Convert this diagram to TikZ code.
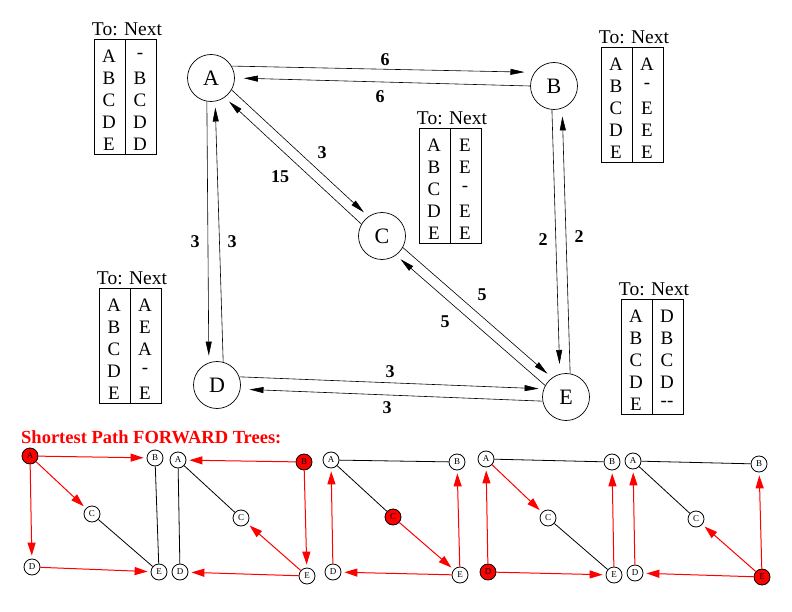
\documentclass[tikz,border=0pt]{standalone}
\usepackage{fontspec}
\setmainfont{Liberation Serif}
\usetikzlibrary{arrows.meta}
\tikzset{
  big/.style={circle,draw,line width=0.7pt,minimum size=47pt,inner sep=0pt,font=\fontsize{22}{22}\selectfont},
  sm/.style={circle,draw,line width=0.8pt,minimum size=16pt,inner sep=0pt,font=\fontsize{9}{9}\selectfont},
  src/.style={sm,fill=red},
  edge/.style={line width=0.6pt,-{Triangle[length=14pt,width=6pt]},shorten >=6pt},
  wt/.style={font=\bfseries\fontsize{18}{18}\selectfont},
  rarr/.style={red,line width=1pt,-{Triangle[length=13pt,width=8pt]},shorten >=3pt},
  bl/.style={black,line width=0.8pt},
  ttl/.style={font=\fontsize{19.5}{19.5}\selectfont},
  ent/.style={font=\fontsize{19}{19}\selectfont,inner sep=0pt},
  tbox/.style={line width=0.8pt},
}
\newcommand\rtab[8]{%
  \draw[tbox] (#1,#2) rectangle (#1+62,#2+115);
  \draw[tbox] (#1+31,#2) -- (#1+31,#2+115);
  \node[ttl] (#3t) at (#1+33,#2-10) {To: Next};
  \foreach \l/\n [count=\i from 0] in {A/#4,B/#5,C/#6,D/#7,E/#8} {
    \node[ent] (#3l\l) at (#1+15,#2+17+22*\i) {\l};
    \node[ent] (#3n\l) at (#1+46,#2+17+22*\i) {\n};
  }%
}
\begin{document}
\begin{tikzpicture}[x=1pt,y=-1pt]
\useasboundingbox[fill=white] (0,0) rectangle (792,612);
% main graph
\node[big] (A) at (211,78) {A};
\node[big] (B) at (554,86) {B};
\node[big] (C) at (382,236) {C};
\node[big] (D) at (217,385) {D};
\node[big] (E) at (566,397) {E};
\draw[edge,shorten >=10pt] (A.30) -- (B.145);
\draw[edge,shorten >=9pt] (B.180) -- (A.0);
\draw[edge] (A.-30) -- (C.125);
\draw[edge] (C.150) -- (A.-55);
\draw[edge,shorten >=7pt] (A.-100) -- (D.110);
\draw[edge] (D.75) -- (A.-80);
\draw[edge,shorten >=10pt] (B.-95) -- (E.105);
\draw[edge,shorten >=8pt] (E.80) -- (B.-70);
\draw[edge] (C.-29) -- (E.126);
\draw[edge] (E.151) -- (C.-54);
\draw[edge,shorten >=5pt] (D.20) -- (E.160);
\draw[edge,shorten >=9pt] (E.190) -- (D.-10);
\node[wt] (w1) at (385,60) {6};
\node[wt] (w2) at (380,97) {6};
\node[wt] (w3) at (322,153) {3};
\node[wt] (w4) at (280,177) {15};
\node[wt] (w5) at (195,242) {3};
\node[wt] (w6) at (232,242) {3};
\node[wt] (w7) at (543,240) {2};
\node[wt] (w8) at (579,237) {2};
\node[wt] (w9) at (482,295) {5};
\node[wt] (w10) at (445,322) {5};
\node[wt] (w11) at (390,372) {3};
\node[wt] (w12) at (387,408) {3};
% routing tables
\rtab{94}{39}{ta}{-}{B}{C}{D}{D}
\rtab{601}{47}{tb}{A}{-}{E}{E}{E}
\rtab{419}{128}{tc}{E}{E}{-}{E}{E}
\rtab{99}{288}{td}{A}{E}{A}{-}{E}
\rtab{621}{299}{te}{D}{B}{C}{D}{-{}-}
% title
\node[red,font=\bfseries\fontsize{18.5}{18.5}\selectfont,anchor=west,inner sep=0pt] (title) at (21,437) {Shortest Path FORWARD Trees:};
% tree 1 (A)
\node[src] (aA) at (30,456) {A};
\node[sm] (aB) at (155,458) {B};
\node[sm] (aC) at (92,514) {C};
\node[sm] (aD) at (32,567) {D};
\node[sm] (aE) at (159,572) {E};
\draw[rarr] (aA) -- (aB);
\draw[rarr] (aA) -- (aC);
\draw[rarr] (aA) -- (aD);
\draw[rarr] (aD) -- (aE);
\draw[bl] (aB) -- (aE);
\draw[bl] (aC) -- (aE);
% tree 2 (B)
\node[sm] (bA) at (178,460) {A};
\node[src] (bB) at (304,462) {B};
\node[sm] (bC) at (241,518) {C};
\node[sm] (bD) at (180,572) {D};
\node[sm] (bE) at (307,576) {E};
\draw[rarr] (bB) -- (bA);
\draw[rarr] (bB) -- (bE);
\draw[rarr] (bE) -- (bC);
\draw[rarr] (bE) -- (bD);
\draw[bl] (bA) -- (bC);
\draw[bl] (bA) -- (bD);
% tree 3 (C)
\node[sm] (cA) at (331,460) {A};
\node[sm] (cB) at (457,462) {B};
\node[src] (cC) at (393,517) {C};
\node[sm] (cD) at (333,572) {D};
\node[sm] (cE) at (460,575) {E};
\draw[rarr] (cC) -- (cE);
\draw[rarr] (cE) -- (cB);
\draw[rarr] (cE) -- (cD);
\draw[rarr] (cD) -- (cA);
\draw[bl] (cA) -- (cB);
\draw[bl] (cA) -- (cC);
% tree 4 (D)
\node[sm] (dA) at (486,459) {A};
\node[sm] (dB) at (612,462) {B};
\node[sm] (dC) at (548,518) {C};
\node[src] (dD) at (488,572) {D};
\node[sm] (dE) at (614,575) {E};
\draw[rarr] (dD) -- (dA);
\draw[rarr] (dA) -- (dC);
\draw[rarr] (dD) -- (dE);
\draw[rarr] (dE) -- (dB);
\draw[bl] (dA) -- (dB);
\draw[bl] (dC) -- (dE);
% tree 5 (E)
\node[sm] (eA) at (633,461) {A};
\node[sm] (eB) at (759,464) {B};
\node[sm] (eC) at (696,519) {C};
\node[sm] (eD) at (635,573) {D};
\node[src] (eE) at (762,577) {E};
\draw[rarr] (eE) -- (eB);
\draw[rarr] (eE) -- (eC);
\draw[rarr] (eE) -- (eD);
\draw[rarr] (eD) -- (eA);
\draw[bl] (eA) -- (eB);
\draw[bl] (eA) -- (eC);
\end{tikzpicture}
\end{document}
